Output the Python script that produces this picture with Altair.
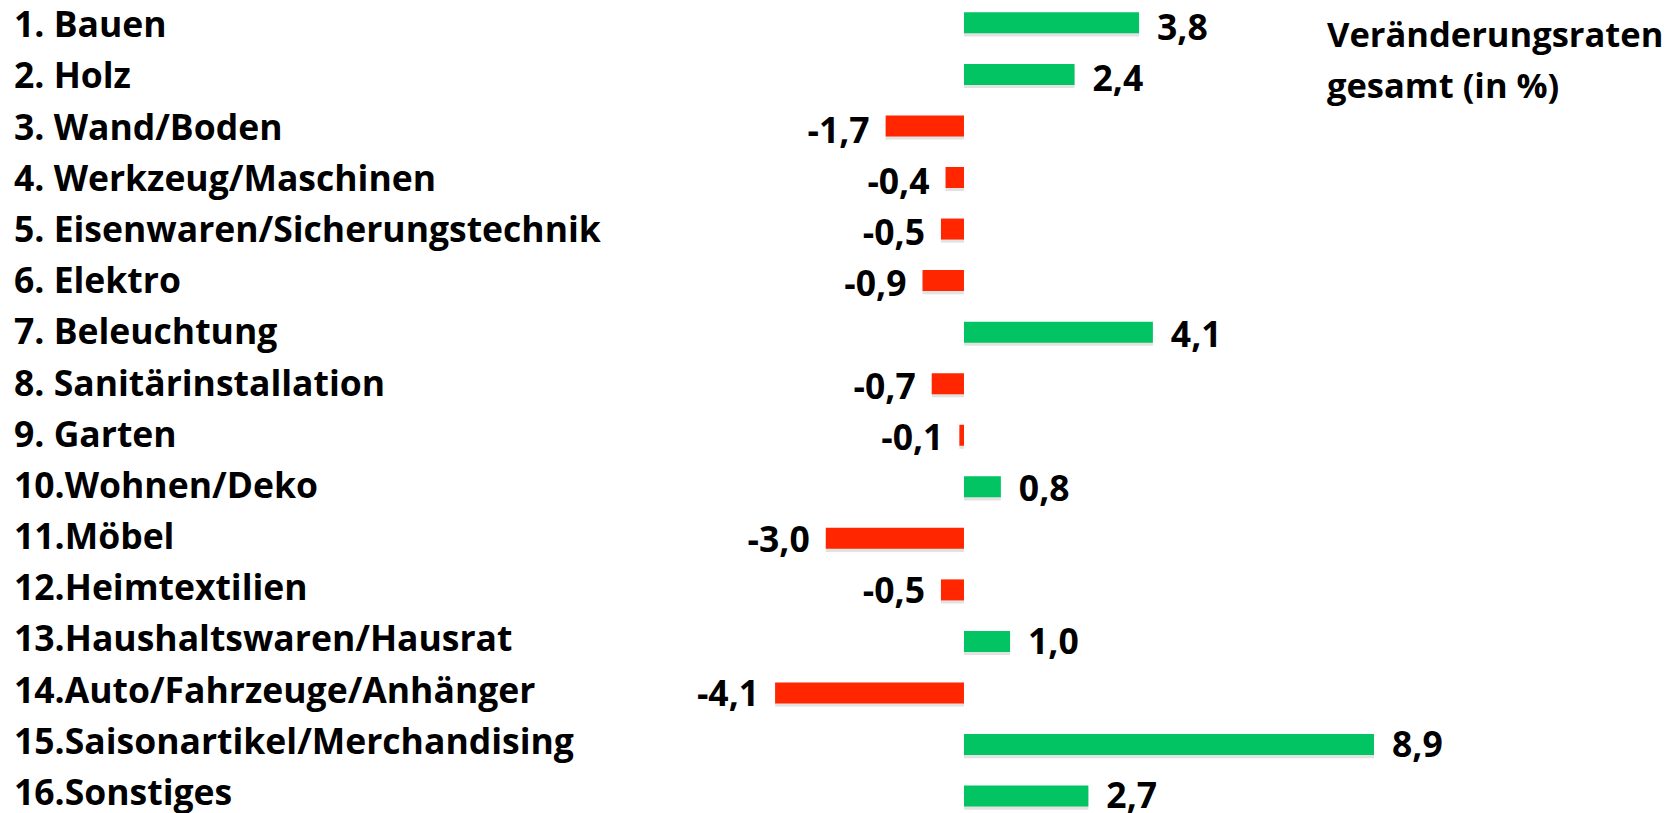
import altair as alt
import pandas as pd

categories = ["1. Bauen", "2. Holz", "3. Wand/Boden", "4. Werkzeug/Maschinen",
              "5. Eisenwaren/Sicherungstechnik", "6. Elektro", "7. Beleuchtung",
              "8. Sanitärinstallation", "9. Garten", "10.Wohnen/Deko", "11.Möbel",
              "12.Heimtextilien", "13.Haushaltswaren/Hausrat",
              "14.Auto/Fahrzeuge/Anhänger", "15.Saisonartikel/Merchandising",
              "16.Sonstiges"]
values = [3.8, 2.4, -1.7, -0.4, -0.5, -0.9, 4.1, -0.7, -0.1, 0.8, -3.0, -0.5,
          1.0, -4.1, 8.9, 2.7]
title_lines = ["Veränderungsraten", "gesamt (in %)"]

GREEN = "#02c463"
RED = "#ff2600"
FONT = "Open Sans"
FS = 35.5

W, H = 1662, 805
HALF = 0.2037  # half bar thickness in row units

df = pd.DataFrame({
    "cat": categories,
    "value": values,
    "row": list(range(1, len(categories) + 1)),
})
df["label"] = [f"{v:.1f}".replace(".", ",") for v in values]
df["sign"] = ["pos" if v >= 0 else "neg" for v in values]

xscale = alt.Scale(domain=[-20.751, 15.325], nice=False, zero=False)
yscale = alt.Scale(domain=[0.712, 16.328], reverse=True, nice=False, zero=False)
yscale_lab = alt.Scale(domain=[0.4275, 16.156], reverse=True, nice=False, zero=False)

color = alt.Color("sign:N", scale=alt.Scale(domain=["pos", "neg"], range=[GREEN, RED]),
                  legend=None)

base = alt.Chart(df).transform_calculate(
    y1=f"datum.row - {HALF}", y2=f"datum.row + {HALF}",
    sy1=f"datum.row - {HALF} + 0.06", sy2=f"datum.row + {HALF} + 0.06",
)

shadow = base.mark_rect(color="#8a8a8a", opacity=0.25).encode(
    x=alt.X("value:Q", scale=xscale, axis=None),
    x2=alt.datum(0),
    y=alt.Y("sy1:Q", scale=yscale, axis=None),
    y2="sy2:Q",
)

bars = base.mark_rect().encode(
    x=alt.X("value:Q", scale=xscale, axis=None),
    x2=alt.datum(0),
    y=alt.Y("y1:Q", scale=yscale, axis=None),
    y2="y2:Q",
    color=color,
)

bar_layer = alt.layer(shadow, bars)

pos_labels = alt.Chart(df).transform_filter("datum.value >= 0").mark_text(
    align="left", baseline="alphabetic", dx=18, dy=3,
    font=FONT, fontWeight="bold", fontSize=FS, color="black",
).encode(
    x=alt.X("value:Q", scale=xscale, axis=None),
    y=alt.Y("row:Q", scale=yscale_lab, axis=None),
    text="label:N",
)

neg_labels = alt.Chart(df).transform_filter("datum.value < 0").mark_text(
    align="right", baseline="alphabetic", dx=-16, dy=3,
    font=FONT, fontWeight="bold", fontSize=FS, color="black",
).encode(
    x=alt.X("value:Q", scale=xscale, axis=None),
    y=alt.Y("row:Q", scale=yscale_lab, axis=None),
    text="label:N",
)

cat_labels = alt.Chart(df).mark_text(
    align="left", baseline="alphabetic",
    font=FONT, fontWeight="bold", fontSize=FS, color="black",
).encode(
    x=alt.value(6),
    y=alt.Y("row:Q", scale=yscale_lab, axis=None),
    text="cat:N",
)

text_layer = alt.layer(pos_labels, neg_labels, cat_labels)

title = alt.Chart(pd.DataFrame({"t": [0]})).mark_text(
    align="left", baseline="alphabetic", lineHeight=51,
    font=FONT, fontWeight="bold", fontSize=34.5, color="black",
).encode(
    x=alt.value(1319),
    y=alt.value(39),
    text=alt.value(title_lines),
)

chart = alt.layer(bar_layer, text_layer, title).resolve_scale(y="independent").properties(
    width=W, height=H, padding=0, autosize=alt.AutoSizeParams(type="none"),
).configure_view(stroke=None)

chart.save("out.html", embed_options={"renderer": "svg", "actions": False})
